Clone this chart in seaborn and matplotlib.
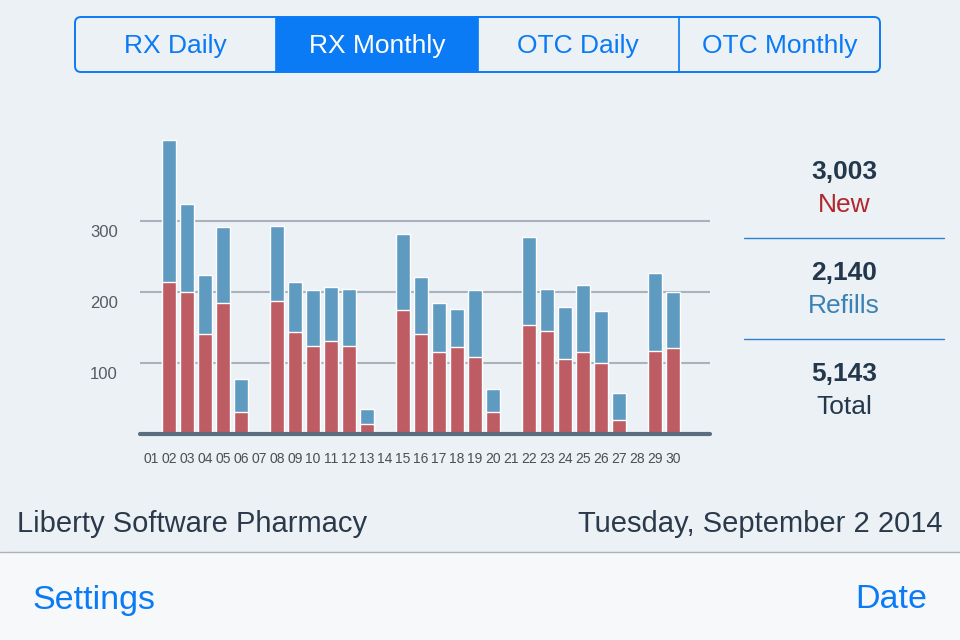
import matplotlib
matplotlib.use("Agg")
import matplotlib.pyplot as plt
from matplotlib.patches import FancyBboxPatch, Rectangle
from matplotlib.transforms import ScaledTranslation
import seaborn as sns
import numpy as np

sns.set_theme(style="white")
plt.rcParams["font.family"] = ["Liberation Sans", "DejaVu Sans"]

# dati: prescrizioni di settembre 2014 (nuove + rinnovi)
days = ["01", "02", "03", "04", "05", "06", "07", "08", "09", "10",
        "11", "12", "13", "14", "15", "16", "17", "18", "19", "20",
        "21", "22", "23", "24", "25", "26", "27", "28", "29", "30"]
new_rx = [0, 213, 200, 140, 184, 30, 0, 187, 143, 123,
          131, 124, 13, 0, 174, 141, 115, 122, 108, 31,
          0, 153, 144, 105, 115, 100, 19, 0, 117, 121]
refills = [0, 201, 123, 83, 107, 47, 0, 105, 71, 79,
           75, 80, 22, 0, 107, 80, 69, 54, 94, 32,
           0, 124, 60, 73, 95, 73, 39, 0, 110, 79]
y_ticks = [100, 200, 300]
tabs = ["RX Daily", "RX Monthly", "OTC Daily", "OTC Monthly"]
selected_tab = "RX Monthly"
summary = [("3,003", "New"), ("2,140", "Refills"), ("5,143", "Total")]
pharmacy = "Liberty Software Pharmacy"
date_txt = "Tuesday, September 2 2014"

BG = "#ECF1F6"
IOS_BLUE = "#0A7AF5"
RED = "#BE5C64"
BLUE = "#5F9BC1"
GRID = "#A9B2BB"
BASE = "#5A6E7F"
DARK = "#24384C"

total = np.array(new_rx) + np.array(refills)

fig = plt.figure(figsize=(9.6, 6.4), dpi=100, facecolor=BG)

# livello interfaccia (pixel coords)
ui = fig.add_axes([0, 0, 1, 1], zorder=0)
ui.set_xlim(0, 960); ui.set_ylim(640, 0); ui.axis("off")
ui.add_patch(Rectangle((0, 552), 960, 88, facecolor="#F6F8FA", edgecolor="none"))
ui.plot([0, 960], [552, 552], color="#ADB2B7", lw=1)

# controllo a segmenti
x0, seg_w = 75, 201.25
ui.add_patch(FancyBboxPatch((x0, 17), seg_w * 4, 55, boxstyle="round,pad=0,rounding_size=6",
                            facecolor="none", edgecolor=IOS_BLUE, lw=1.4, zorder=3))
for i, t in enumerate(tabs):
    sel = t == selected_tab
    if sel:
        ui.add_patch(Rectangle((x0 + i * seg_w, 17), seg_w, 55, facecolor=IOS_BLUE, edgecolor="none"))
    if i > 0:
        ui.plot([x0 + i * seg_w] * 2, [17, 72], color=IOS_BLUE, lw=1.2)
    ui.text(x0 + (i + 0.5) * seg_w, 46, t, ha="center", va="center", fontsize=19,
            color="white" if sel else IOS_BLUE)

# riepilogo a destra
label_colors = ["#B0272E", "#3A82B5", DARK]
for i, ((num, lab), c) in enumerate(zip(summary, label_colors)):
    yc = 172 + i * 101
    ui.text(844, yc, num, ha="center", va="center", fontsize=19, fontweight="bold", color=DARK)
    ui.text(844, yc + 33, lab, ha="center", va="center", fontsize=19, color=c)
    if i < 2:
        ui.plot([744, 944], [yc + 66, yc + 66], color="#2F80D0", lw=1)

ui.text(17, 524.5, pharmacy, ha="left", va="center", fontsize=21, color="#2B3A4A")
ui.text(942, 524.5, date_txt, ha="right", va="center", fontsize=21, color="#2B3A4A")
ui.text(32, 600, "Settings", ha="left", va="center", fontsize=24.5, color=IOS_BLUE)
ui.text(927, 599, "Date", ha="right", va="center", fontsize=24.5, color=IOS_BLUE)

# grafico a barre impilate
ax = fig.add_axes([140 / 960, (640 - 433.7) / 640, 570 / 960, 300 / 640], zorder=1)
ax.set_facecolor("none")
sns.barplot(x=days, y=total, color=BLUE, width=0.78, saturation=1, errorbar=None, ax=ax)
sns.barplot(x=days, y=new_rx, color=RED, width=0.78, saturation=1, errorbar=None, ax=ax)
ax.set_xlim(-0.61, 31.06)
ax.set_ylim(0, 422.5)
ax.set_yticks(y_ticks)
ax.set_yticklabels([str(v) for v in y_ticks])
ax.grid(axis="y", color=GRID, lw=1.5)
ax.set_axisbelow(True)
sns.despine(ax=ax, left=True, bottom=True)
ax.axhline(0, color=BASE, lw=3, zorder=5, clip_on=False)
ax.tick_params(axis="y", length=0, pad=16, labelsize=12, labelcolor="#555B60")
ax.tick_params(axis="x", length=0, pad=13.5, labelsize=10, labelcolor="#4A4F54")
ax.set_xlabel(""); ax.set_ylabel("")
# le etichette y stanno sotto la propria linea di griglia
shift = ScaledTranslation(0, -0.10, fig.dpi_scale_trans)
for lbl in ax.get_yticklabels():
    lbl.set_transform(lbl.get_transform() + shift)

fig.savefig("out.png", dpi=100, facecolor=BG)
